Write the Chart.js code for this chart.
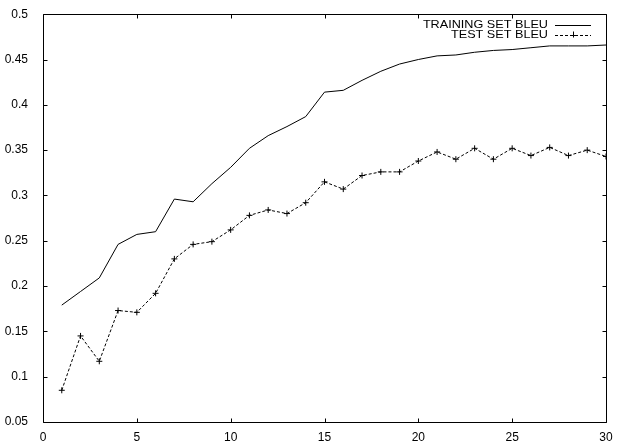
<!DOCTYPE html>
<html>
<head>
<meta charset="utf-8">
<script src="https://cdn.jsdelivr.net/npm/chart.js@4"></script>
<style>
html,body{margin:0;padding:0;background:#fff;overflow:hidden;}
#wrap{width:623px;height:441px;}
canvas{display:block;}
</style>
</head>
<body>
<div id="wrap"><canvas id="c" width="623" height="441"></canvas></div>
<script>
const epochs = [1,2,3,4,5,6,7,8,9,10,11,12,13,14,15,16,17,18,19,20,21,22,23,24,25,26,27,28,29,30];
const trainingBleu = [0.179,0.194,0.209,0.246,0.257,0.260,0.296,0.293,0.313,0.331,0.352,0.366,0.376,0.387,0.414,0.416,0.427,0.437,0.445,0.450,0.454,0.455,0.458,0.460,0.461,0.463,0.465,0.465,0.465,0.466];
const testBleu = [0.085,0.145,0.117,0.173,0.171,0.192,0.230,0.246,0.249,0.262,0.278,0.284,0.280,0.292,0.315,0.307,0.322,0.326,0.326,0.338,0.348,0.340,0.352,0.340,0.352,0.344,0.353,0.344,0.350,0.343];
const seriesNames = ["TRAINING SET BLEU","TEST SET BLEU"];
const xTickValues = [0,5,10,15,20,25,30];
const yTickValues = [0.05,0.1,0.15,0.2,0.25,0.3,0.35,0.4,0.45,0.5];
const yTickLabels = ["0.05","0.1","0.15","0.2","0.25","0.3","0.35","0.4","0.45","0.5"];

const FONT = "'Liberation Sans', Arial, Helvetica, sans-serif";

const framePlugin = {
  id: 'frame',
  afterDraw(chart) {
    const ctx = chart.ctx;
    const a = chart.chartArea;
    const sx = chart.scales.x, sy = chart.scales.y;
    ctx.save();
    ctx.setLineDash([]);
    ctx.globalAlpha = 1;
    ctx.strokeStyle = '#000000';
    ctx.lineWidth = 1;
    const L = Math.round(a.left) + 0.5, R = Math.round(a.right) + 0.5;
    const T = Math.round(a.top) + 0.5, B = Math.round(a.bottom) + 0.5;
    ctx.beginPath();
    ctx.moveTo(L, T); ctx.lineTo(R, T); ctx.lineTo(R, B); ctx.lineTo(L, B); ctx.closePath();
    const tl = 4;
    xTickValues.forEach(v => {
      const px = Math.round(sx.getPixelForValue(v)) + 0.5;
      ctx.moveTo(px, B); ctx.lineTo(px, B - tl);
      ctx.moveTo(px, T); ctx.lineTo(px, T + tl);
    });
    yTickValues.forEach(v => {
      const py = Math.round(sy.getPixelForValue(v)) + 0.5;
      ctx.moveTo(L, py); ctx.lineTo(L + tl, py);
      ctx.moveTo(R, py); ctx.lineTo(R - tl, py);
    });
    ctx.stroke();

    // legend (top right, inside plot)
    const textRight = 548, x0 = 555, x1 = 591;
    const rows = [24.5, 34.5];
    chart.data.datasets.forEach((ds, i) => {
      const y = rows[i];
      ctx.save();
      ctx.translate(textRight, y);
      ctx.scale(1.15, 1);
      ctx.font = '11px ' + FONT;
      ctx.fillStyle = '#000';
      ctx.textAlign = 'right';
      ctx.textBaseline = 'middle';
      ctx.fillText(ds.label, 0, 0);
      ctx.restore();
      ctx.beginPath();
      ctx.setLineDash(ds.borderDash || []);
      ctx.moveTo(x0, Math.round(y) + 0.5); ctx.lineTo(x1, Math.round(y) + 0.5);
      ctx.stroke();
      ctx.setLineDash([]);
      if (ds.pointRadius > 0) {
        const cx = Math.round((x0 + x1) / 2) + 0.5, r = ds.pointRadius;
        ctx.beginPath();
        ctx.moveTo(cx - r, Math.round(y) + 0.5); ctx.lineTo(cx + r, Math.round(y) + 0.5);
        ctx.moveTo(cx, y - r); ctx.lineTo(cx, y + r);
        ctx.stroke();
      }
    });
    ctx.restore();
  }
};

new Chart(document.getElementById('c'), {
  type: 'scatter',
  data: {
    datasets: [
      {
        label: seriesNames[0],
        data: epochs.map((e, i) => ({x: e, y: trainingBleu[i]})),
        showLine: true,
        borderColor: '#000',
        backgroundColor: '#000',
        borderWidth: 1,
        pointRadius: 0
      },
      {
        label: seriesNames[1],
        data: epochs.map((e, i) => ({x: e, y: testBleu[i]})),
        showLine: true,
        borderColor: '#000',
        backgroundColor: '#000',
        borderWidth: 1,
        borderDash: [3, 2],
        pointStyle: 'cross',
        pointRadius: 3,
        pointBorderColor: '#000'
      }
    ]
  },
  options: {
    responsive: false,
    animation: false,
    devicePixelRatio: 1,
    layout: {padding: {top: 13, right: 17, left: 0, bottom: 0}},
    plugins: {legend: {display: false}, tooltip: {enabled: false}},
    scales: {
      x: {
        type: 'linear',
        min: 0, max: 30,
        afterBuildTicks: s => { s.ticks = xTickValues.map(v => ({value: v})); },
        afterFit: s => { s.height = 19; },
        grid: {display: false},
        border: {display: false},
        ticks: {
          color: '#000',
          font: {family: FONT, size: 12},
          padding: 0,
          maxRotation: 0,
          autoSkip: false
        }
      },
      y: {
        type: 'linear',
        min: 0.05, max: 0.5,
        afterBuildTicks: s => { s.ticks = yTickValues.map(v => ({value: v})); },
        afterFit: s => { s.width = 43; },
        grid: {display: false},
        border: {display: false},
        ticks: {
          color: '#000',
          font: {family: FONT, size: 12},
          padding: 7,
          autoSkip: false,
          callback: (v, i) => yTickLabels[i]
        }
      }
    }
  },
  plugins: [framePlugin]
});
</script>
</body>
</html>
